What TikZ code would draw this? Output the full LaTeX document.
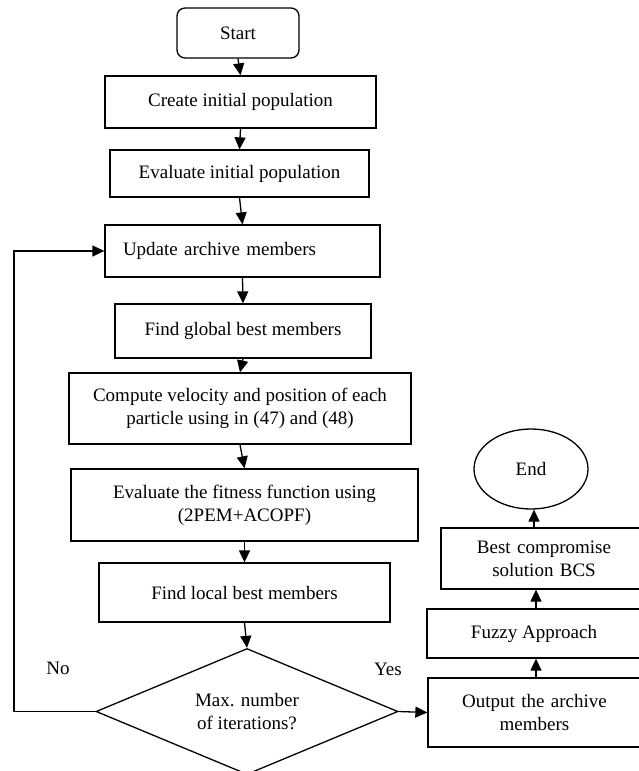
\documentclass[tikz,border=0pt]{standalone}
\usepackage{fontspec}
\setmainfont{Liberation Serif}
\usetikzlibrary{arrows.meta,shapes.geometric}
\tikzset{
  base/.style={draw=black, line width=1.3pt, inner sep=0pt, align=center,
    font=\fontsize{19}{23}\selectfont},
  procbox/.style={base, rectangle},
  arr/.style={line width=1.3pt, -{Triangle[length=12pt,width=11pt]}},
  lbl/.style={font=\fontsize{19}{23}\selectfont, inner sep=0pt}
}
\begin{document}
\begin{tikzpicture}[x=1pt,y=-1pt]
\useasboundingbox (0,0) rectangle (638,771);
\node[procbox, rounded corners=8pt, minimum width=122pt, minimum height=50pt] (start) at (238,33) {Start};
\node[procbox, minimum width=271pt, minimum height=52pt] (create) at (240.5,102) {Create initial population};
\node[procbox, minimum width=259pt, minimum height=47pt] (evalinit) at (239.5,173.5) {Evaluate initial population};
\node[procbox, minimum width=275pt, minimum height=52pt, text width=239pt, inner xsep=18pt, align=left] (update) at (242.5,251) {\raisebox{4pt}{Update archive members}};
\node[procbox, minimum width=256pt, minimum height=54pt] (global) at (243,331) {Find global best members};
\node[procbox, minimum width=342pt, minimum height=71pt] (compute) at (240,408.5) {Compute velocity and position of each\\particle using in (47) and (48)};
\node[procbox, minimum width=347pt, minimum height=72pt] (fitness) at (244.5,505) {Evaluate the fitness function using\\(2PEM+ACOPF)};
\node[procbox, minimum width=291pt, minimum height=59pt] (local) at (244.5,592.5) {Find local best members};
\node[base, diamond, minimum width=302pt, minimum height=126pt, aspect=2.4] (dia) at (247,711.5) {Max. number\\of iterations?};
\node[procbox, minimum width=213pt, minimum height=69pt, text width=180pt] (output) at (534.5,712.5) {Output the archive\\members};
\node[procbox, minimum width=214pt, minimum height=49pt] (fuzzy) at (534,633.5) {Fuzzy Approach};
\node[procbox, minimum width=206pt, minimum height=61pt, text width=170pt] (bcs) at (544,558.5) {Best compromise\\solution BCS};
\node[base, ellipse, minimum width=114pt, minimum height=80pt] (end) at (531,469) {End};
\node[lbl] (no) at (58,668) {No};
\node[lbl] (yes) at (388,669) {Yes};
\coordinate (lp) at (14,0);
\coordinate (rx) at (536,0);
\coordinate (ex) at (534,0);
\draw[arr] (start.south) -- (create.north);
\draw[arr] (create.south) -- (evalinit.north);
\draw[arr] (evalinit.south) -- (update.north);
\draw[arr] (update.south) -- (global.north);
\draw[arr] (global.south) -- (compute.north);
\draw[arr] (compute.south) -- (fitness.north);
\draw[arr] (fitness.south) -- (local.north);
\draw[arr] (local.south) -- (dia.north);
\draw[arr] (dia.west) -- (dia.west -| lp) |- (update.west);
\draw[arr] (dia.east) -- (output.west);
\draw[arr] (output.north -| rx) -- (fuzzy.south -| rx);
\draw[arr] (fuzzy.north -| rx) -- (bcs.south -| rx);
\draw[arr] (bcs.north -| ex) -- (end.south -| ex);
\end{tikzpicture}
\end{document}
